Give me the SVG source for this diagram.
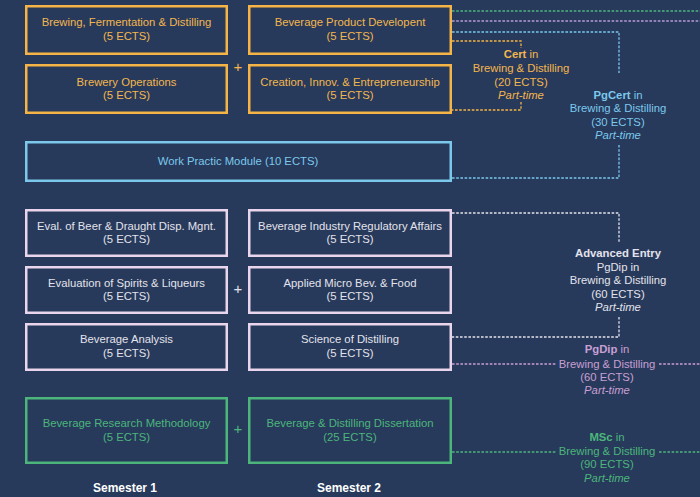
<svg xmlns="http://www.w3.org/2000/svg" width="700" height="497" viewBox="0 0 700 497">
<style>
text{font-family:"Liberation Sans",Arial,sans-serif;font-size:11.3px;text-anchor:middle}
.box{fill:#273a5b;stroke-width:2.5}
.o{stroke:#f5b445}.ot{fill:#f3b64e}
.b{stroke:#7cc8ec}.bt{fill:#7cc8ec}
.p{stroke:#e9d5ec}.pt{fill:#e4e2ec}
.g{stroke:#4cb57c}.gt{fill:#4cb57c}
.vt{fill:#c99fd3}
.dl{fill:none;stroke-width:1.3;stroke-dasharray:2.6 1.6}
.plus{font-size:15px}
.b7{font-weight:bold}
.it{font-style:italic}
.sem{fill:#ffffff;font-size:12px;font-weight:bold}
</style>
<rect width="700" height="497" fill="#273a5b"/>
<g id="connectors">
<path class="dl" stroke="#4cb57c" d="M452 11H700"/>
<path class="dl" stroke="#b79ad6" d="M452 21H700"/>
<path class="dl" stroke="#7cc8ec" d="M452 32H619V73M619 145V178H452"/>
<path class="dl" stroke="#f5b445" d="M452 41H521V48M521 102V110H452"/>
<path class="dl" stroke="#e4e2ec" d="M452 213H619V242M619 317V337H452"/>
<path class="dl" stroke="#c99fd3" d="M452 364H556M659 364H700"/>
<path class="dl" stroke="#4cb57c" d="M452 452H556M659 452H700"/>
</g>
<g id="n1"><rect class="box o" x="26.25" y="6.25" width="200.5" height="47.5"/><text class="ot" x="126.5" y="26">Brewing, Fermentation &amp; Distilling</text><text class="ot" x="126.5" y="40">(5 ECTS)</text></g>
<g id="n2"><rect class="box o" x="249.25" y="6.25" width="201.5" height="47.5"/><text class="ot" x="350" y="26">Beverage Product Developent</text><text class="ot" x="350" y="40">(5 ECTS)</text></g>
<g id="n3"><rect class="box o" x="26.25" y="65.25" width="200.5" height="47.5"/><text class="ot" x="126.5" y="86">Brewery Operations</text><text class="ot" x="126.5" y="99">(5 ECTS)</text></g>
<g id="n4"><rect class="box o" x="249.25" y="65.25" width="201.5" height="47.5"/><text class="ot" x="350" y="86">Creation, Innov. &amp; Entrepreneurship</text><text class="ot" x="350" y="99">(5 ECTS)</text></g>
<text class="ot plus" x="238" y="72">+</text>
<g id="n5"><rect class="box b" x="26.25" y="142.25" width="424.5" height="38.5"/><text class="bt" x="238" y="165">Work Practic Module (10 ECTS)</text></g>
<g id="n6"><rect class="box p" x="26.25" y="210.25" width="200.5" height="45.5"/><text class="pt" x="126.5" y="230">Eval. of Beer &amp; Draught Disp. Mgnt.</text><text class="pt" x="126.5" y="243">(5 ECTS)</text></g>
<g id="n7"><rect class="box p" x="249.25" y="210.25" width="201.5" height="45.5"/><text class="pt" x="350" y="230">Beverage Industry Regulatory Affairs</text><text class="pt" x="350" y="243">(5 ECTS)</text></g>
<g id="n8"><rect class="box p" x="26.25" y="267.25" width="200.5" height="45.5"/><text class="pt" x="126.5" y="287">Evaluation of Spirits &amp; Liqueurs</text><text class="pt" x="126.5" y="300">(5 ECTS)</text></g>
<g id="n9"><rect class="box p" x="249.25" y="267.25" width="201.5" height="45.5"/><text class="pt" x="350" y="287">Applied Micro Bev. &amp; Food</text><text class="pt" x="350" y="300">(5 ECTS)</text></g>
<g id="n10"><rect class="box p" x="26.25" y="324.25" width="200.5" height="45.5"/><text class="pt" x="126.5" y="343">Beverage Analysis</text><text class="pt" x="126.5" y="357">(5 ECTS)</text></g>
<g id="n11"><rect class="box p" x="249.25" y="324.25" width="201.5" height="45.5"/><text class="pt" x="350" y="343">Science of Distilling</text><text class="pt" x="350" y="357">(5 ECTS)</text></g>
<text class="pt plus" x="238" y="294">+</text>
<g id="n12"><rect class="box g" x="26.25" y="398.25" width="200.5" height="64.5"/><text class="gt" x="126.5" y="427">Beverage Research Methodology</text><text class="gt" x="126.5" y="441">(5 ECTS)</text></g>
<g id="n13"><rect class="box g" x="249.25" y="398.25" width="201.5" height="64.5"/><text class="gt" x="350" y="427">Beverage &amp; Distilling Dissertation</text><text class="gt" x="350" y="441">(25 ECTS)</text></g>
<text class="gt plus" x="238" y="434">+</text>
<g id="cert"><text class="ot" x="521" y="58"><tspan class="b7">Cert</tspan> in</text><text class="ot" x="521" y="72">Brewing &amp; Distilling</text><text class="ot" x="521" y="86">(20 ECTS)</text><text class="ot it" x="521" y="99">Part-time</text></g>
<g id="pgcert"><text class="bt" x="618" y="99"><tspan class="b7">PgCert</tspan> in</text><text class="bt" x="618" y="112">Brewing &amp; Distilling</text><text class="bt" x="618" y="126">(30 ECTS)</text><text class="bt it" x="618" y="139">Part-time</text></g>
<g id="adv"><text class="pt b7" x="618" y="257">Advanced Entry</text><text class="pt" x="618" y="271">PgDip in</text><text class="pt" x="618" y="284">Brewing &amp; Distilling</text><text class="pt" x="618" y="298">(60 ECTS)</text><text class="pt it" x="618" y="311">Part-time</text></g>
<g id="pgdip"><text class="vt" x="607" y="353"><tspan class="b7">PgDip</tspan> in</text><text class="vt" x="607" y="368">Brewing &amp; Distilling</text><text class="vt" x="607" y="381">(60 ECTS)</text><text class="vt it" x="607" y="394">Part-time</text></g>
<g id="msc"><text class="gt" x="607" y="441"><tspan class="b7">MSc</tspan> in</text><text class="gt" x="607" y="455">Brewing &amp; Distilling</text><text class="gt" x="607" y="468">(90 ECTS)</text><text class="gt it" x="607" y="482">Part-time</text></g>
<text class="sem" x="125" y="492">Semester 1</text>
<text class="sem" x="349" y="492">Semester 2</text>
</svg>
